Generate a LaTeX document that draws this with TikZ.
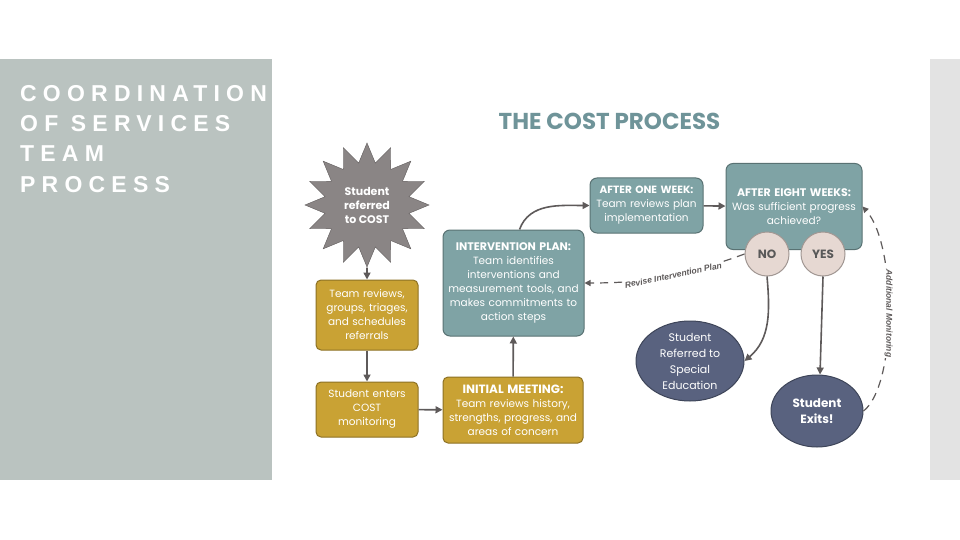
\documentclass[tikz,border=0pt]{standalone}
\usepackage{fontspec}
\setmainfont{Poppins}
\newfontfamily\headfont[LetterSpace=27]{Liberation Sans}
\newfontfamily\notefont{Liberation Sans}
\usepackage{tikz}
\usetikzlibrary{positioning,arrows.meta,shapes.geometric,calc}
\definecolor{cpanel}{HTML}{BAC3C0}
\definecolor{cstrip}{HTML}{E3E3E3}
\definecolor{cgold}{HTML}{C9A234}
\definecolor{cteal}{HTML}{7FA3A5}
\definecolor{cnavy}{HTML}{59627F}
\definecolor{cstar}{HTML}{8A8585}
\definecolor{cpink}{HTML}{E6D8D2}
\definecolor{carrow}{HTML}{5E5A5A}
\definecolor{ctitle}{HTML}{6F9499}

\begin{document}
\begin{tikzpicture}[x=1pt,y=-1pt,
 gold/.style={rectangle, rounded corners=5pt, draw=cgold!70!black, fill=cgold, line width=1pt,
 align=center, text=white, inner sep=2pt, font=\fontsize{10.5}{14}\selectfont},
 teal/.style={rectangle, rounded corners=7pt, draw=cteal!70!black, fill=cteal, line width=1pt,
 align=center, text=white, inner sep=2pt, font=\fontsize{10.5}{14}\selectfont},
 oval/.style={ellipse, draw=cnavy!70!black, fill=cnavy, line width=1pt, align=center,
 text=white, inner sep=0pt, font=\fontsize{11}{16}\selectfont},
 yn/.style={circle, draw=cpink!70!black, fill=cpink, line width=1pt, minimum size=44pt,
 inner sep=0pt, text=black!65, font=\fontsize{12}{14}\selectfont\bfseries},
 burst/.style={star, star points=16, star point ratio=1.45, draw=cstar!70!black, fill=cstar,
 minimum size=124pt, inner sep=0pt, align=center, text=white,
 font=\fontsize{11}{14}\selectfont\bfseries},
 a/.style={-{Triangle[length=7pt,width=7pt]}, draw=carrow, line width=1.6pt},
 ad/.style={-{Triangle[length=6pt,width=6pt]}, draw=carrow, line width=1.2pt, dash pattern=on 8pt off 6pt},
 lbl/.style={fill=white, inner sep=1pt, text=carrow, font=\notefont\fontsize{8.5}{10}\selectfont\bfseries\itshape},
]
 \useasboundingbox (0,0) rectangle (960,540);
 \fill[white] (0,0) rectangle (960,540);
 \fill[cpanel] (0,59) rectangle (272,480);
 \fill[cstrip] (930,59) rectangle (960,480);

 \node[anchor=north west, align=left, text=white, inner sep=0pt,
 font=\headfont\fontsize{23}{30.3}\selectfont\bfseries] (HEAD) at (20,85)
 {COORDINATION\\OF SERVICES\\TEAM\\PROCESS};
 \node[text=ctitle, font=\fontsize{23}{26}\selectfont\bfseries] (TTL) at (609.5,121) {THE COST PROCESS};

 \node[burst] (SR) at (367,205) {Student\\referred\\to COST};
 \node[gold, minimum width=102pt, minimum height=70pt, text width=98pt] (REV) at (367,315)
 {Team reviews,\\groups, triages,\\and schedules\\referrals};
 \node[gold, minimum width=102pt, minimum height=55pt, text width=98pt] (ENT) at (367,409.5)
 {Student enters\\COST\\monitoring};
 \node[gold, minimum width=140pt, minimum height=66pt, text width=136pt] (INIT) at (513,410)
 {{\fontsize{12}{14}\selectfont\bfseries INITIAL MEETING:}\\Team reviews history,\\strengths, progress, and\\areas of concern};
 \node[teal, minimum width=141pt, minimum height=106pt, text width=137pt] (PLAN) at (513.5,283)
 {{\fontsize{11}{14}\selectfont\bfseries INTERVENTION PLAN:}\\Team identifies\\interventions and\\measurement tools, and\\makes commitments to\\action steps};
 \node[teal, minimum width=113pt, minimum height=55pt, text width=109pt] (ONE) at (646.5,205.5)
 {{\fontsize{10.5}{14}\selectfont\bfseries AFTER ONE WEEK:}\\Team reviews plan\\implementation};
 \node[teal, minimum width=136pt, minimum height=86pt, text width=132pt, anchor=north] (EIGHT) at (794,163)
 {{\fontsize{11}{14}\selectfont\bfseries AFTER EIGHT WEEKS:}\\Was sufficient progress\\achieved?};
 \node[yn] (NO) at (767,254) {NO};
 \node[yn] (YES) at (823,254) {YES};
 \node[oval, minimum width=108pt, minimum height=80pt] (SPED) at (690,361)
 {Student\\Referred to\\Special\\Education};
 \node[oval, minimum width=92pt, minimum height=72pt, font=\fontsize{12}{16}\selectfont\bfseries] (EXIT) at (817,411)
 {Student\\Exits!};

 \draw[a] (SR) -- (REV);
 \draw[a] (REV) -- (ENT);
 \draw[a] (ENT) -- (INIT);
 \draw[a] (INIT) -- (PLAN);
 \draw[a] ([xshift=6pt]PLAN.north) to[out=70,in=180] (ONE.west);
 \draw[a] (ONE) -- (EIGHT);
 \draw[a] (NO.south) to[out=-85,in=40] (SPED.east);
 \draw[a] (YES.south) -- ([xshift=3pt]EXIT.north);
 \draw[ad] (NO.west) to[out=200,in=0] node[lbl, pos=0.45, sloped] {Revise Intervention Plan} (PLAN.east);
 \draw[ad] (EXIT.east) .. controls (897,385) and (897,245) .. (EIGHT.east)
 node[lbl, pos=0.5, rotate=-90] {Additional Monitoring};
\end{tikzpicture}
\end{document}
